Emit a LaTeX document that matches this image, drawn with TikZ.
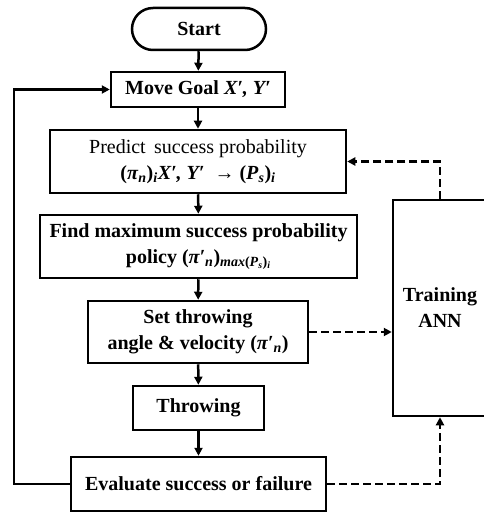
\documentclass[tikz,border=0pt]{standalone}
\usepackage{fontspec}
\setmainfont{Liberation Serif}
\usetikzlibrary{arrows.meta}
\newcommand{\bi}[1]{\textbf{\textit{#1}}}
\begin{document}
\begin{tikzpicture}[x=1pt,y=-1pt,
 box/.style={draw,line width=2.5pt,rectangle,inner sep=0pt,align=center,font=\fontsize{20}{26}\selectfont\bfseries},
 flow/.style={line width=2.5pt,-{Triangle[length=8pt,width=8pt]}},
 dflow/.style={flow,dash pattern=on 8pt off 4pt}]
\useasboundingbox (0,0) rectangle (483,513);
\node[box,rounded corners=21pt,minimum width=134pt,minimum height=42pt] (start) at (199,29) {Start};
\node[box,minimum width=174pt,minimum height=35pt] (move) at (198,89.5) {Move Goal \bi{X′, Y′}};
\node[box,minimum width=296pt,minimum height=63pt] (predict) at (198,161.5) {{\mdseries Predict\, success probability}\\(\bi{π}\textsubscript{\bi{n}})\textsubscript{\bi{i}}\bi{X′, Y′}\ \ {\mdseries →} (\bi{P}\textsubscript{\bi{s}})\textsubscript{\bi{i}}};
\node[box,minimum width=317pt,minimum height=63pt] (find) at (198.5,246.5) {Find maximum success probability\\policy (\bi{π′}\textsubscript{\bi{n}})\textsubscript{\bi{max}(\bi{P}\textsubscript{\bi{s}})\textsubscript{\bi{i}}}};
\node[box,minimum width=220pt,minimum height=62pt] (set) at (198,332) {Set throwing\\angle \& velocity (\bi{π′}\textsubscript{\bi{n}})};
\node[box,minimum width=131pt,minimum height=44pt] (throw) at (198.5,408) {Throwing};
\node[box,minimum width=255pt,minimum height=54pt] (eval) at (198.5,484) {Evaluate success or failure};
\node[box,minimum width=94pt,minimum height=216pt] (train) at (440,308) {Training\\ANN};
\draw[flow] (start) -- (move);
\draw[flow] (move) -- (predict);
\draw[flow] (predict) -- (find);
\draw[flow] (find) -- (set);
\draw[flow] (set) -- (throw);
\draw[flow] (throw) -- (eval);
\draw[flow] (eval.west) -- ++(-56,0) |- (move.west);
\draw[dflow] (train.north) |- (predict.east);
\draw[dflow] (set.east) -- (set.east -| train.west);
\draw[dflow] (eval.east) -| (train.south);
\end{tikzpicture}
\end{document}
